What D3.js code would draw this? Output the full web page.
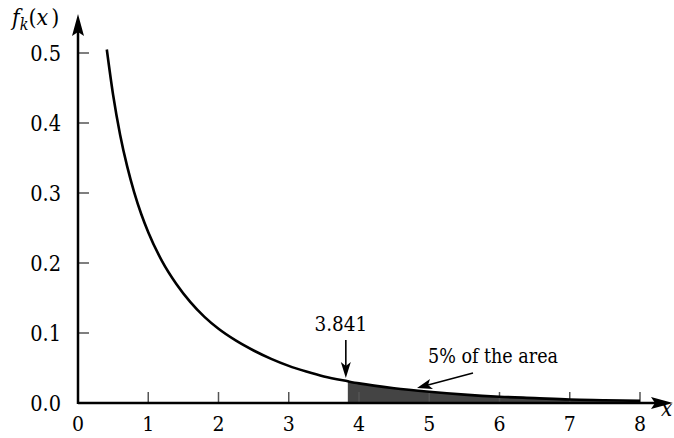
<!DOCTYPE html>
<html>
<head>
<meta charset="utf-8">
<script src="https://cdn.jsdelivr.net/npm/d3@7"></script>
<style>
  body { margin: 0; background: #fff; }
</style>
</head>
<body>
<svg id="chart" width="674" height="438" font-family="'DejaVu Serif Condensed', 'DejaVu Serif', serif" font-stretch="condensed"></svg>
<script>
// points
var curveX = [0.41, 0.5, 0.6, 0.7, 0.8, 0.9, 1.0, 1.2, 1.4, 1.6, 1.8, 2.0, 2.25, 2.5, 2.75, 3.0, 3.25, 3.5, 3.841, 4.0, 4.5, 5.0, 5.5, 6.0, 6.5, 7.0, 7.5, 8.0];
var curveY = [0.505, 0.440, 0.383, 0.338, 0.301, 0.270, 0.244, 0.202, 0.170, 0.144, 0.123, 0.106, 0.089, 0.075, 0.063, 0.053, 0.045, 0.038, 0.031, 0.028, 0.021, 0.016, 0.012, 0.009, 0.007, 0.005, 0.004, 0.003];
var xTicks = [0, 1, 2, 3, 4, 5, 6, 7, 8];
var yTicks = [0.0, 0.1, 0.2, 0.3, 0.4, 0.5];
var critical = 3.841;

var svg = d3.select("#chart");
var x = d3.scaleLinear().domain([0, 8]).range([78, 640]);
var y = d3.scaleLinear().domain([0, 0.5]).range([403, 53]);

var pts = curveX.map(function(d, i) { return { x: d, y: curveY[i] }; });
var tail = pts.filter(function(d) { return d.x >= critical; });

// shaded tail
svg.append("path")
  .datum(tail)
  .attr("fill", "#444")
  .attr("d", d3.area().x(function(d) { return x(d.x); }).y0(y(0)).y1(function(d) { return y(d.y); }).curve(d3.curveMonotoneX));

// ticks
svg.append("g").selectAll("line").data(xTicks.slice(1)).enter().append("line")
  .attr("x1", function(d) { return x(d); }).attr("x2", function(d) { return x(d); })
  .attr("y1", y(0)).attr("y2", y(0) - 11)
  .attr("stroke", "#555").attr("stroke-width", 1.5);
svg.append("g").selectAll("line").data(yTicks.slice(1)).enter().append("line")
  .attr("x1", x(0)).attr("x2", x(0) + 11)
  .attr("y1", function(d) { return y(d); }).attr("y2", function(d) { return y(d); })
  .attr("stroke", "#555").attr("stroke-width", 1.5);

// tick labels
svg.append("g").selectAll("text").data(xTicks).enter().append("text")
  .attr("x", function(d) { return x(d); }).attr("y", 431)
  .attr("text-anchor", "middle").attr("font-size", 21)
  .text(function(d) { return d; });
svg.append("g").selectAll("text").data(yTicks).enter().append("text")
  .attr("x", 61).attr("y", function(d) { return y(d) + 7.5; })
  .attr("text-anchor", "end").attr("font-size", 21.5)
  .text(function(d) { return d.toFixed(1); });

// axes with arrows
svg.append("line").attr("x1", x(0)).attr("x2", 664).attr("y1", y(0)).attr("y2", y(0))
  .attr("stroke", "#000").attr("stroke-width", 2.5);
svg.append("path").attr("d", "M673,403 L651,397 L655,403 L651,409 Z").attr("fill", "#000");
svg.append("line").attr("x1", x(0)).attr("x2", x(0)).attr("y1", y(0) + 1).attr("y2", 24)
  .attr("stroke", "#000").attr("stroke-width", 2.5);
svg.append("path").attr("d", "M78,14 L72,36 L78,32 L84,36 Z").attr("fill", "#000");

// curve
svg.append("path")
  .datum(pts)
  .attr("fill", "none").attr("stroke", "#000").attr("stroke-width", 2.6)
  .attr("d", d3.line().x(function(d) { return x(d.x); }).y(function(d) { return y(d.y); }).curve(d3.curveMonotoneX));

// axis titles
var yl = svg.append("text").attr("x", 12).attr("y", 25).attr("font-size", 23);
yl.append("tspan").attr("font-style", "italic").text("f");
yl.append("tspan").attr("font-style", "italic").attr("font-size", 16).attr("dy", 5).text("k");
yl.append("tspan").attr("dy", -5).text("(");
yl.append("tspan").attr("font-style", "italic").text("x");
yl.append("tspan").attr("dx", 3).text(")");
svg.append("text").attr("x", 661).attr("y", 416).attr("font-size", 22).attr("font-style", "italic").text("x");

// annotations
svg.append("text").attr("x", x(critical) - 7).attr("y", 331).attr("text-anchor", "middle").attr("font-size", 20.5).text("3.841");
svg.append("line").attr("x1", x(critical) - 2).attr("x2", x(critical) - 2).attr("y1", 340).attr("y2", 368)
  .attr("stroke", "#000").attr("stroke-width", 1.6);
svg.append("path").attr("d", "M" + (x(critical) - 2) + ",378 L" + (x(critical) - 7) + ",362 L" + (x(critical) - 2) + ",366 L" + (x(critical) + 3) + ",362 Z").attr("fill", "#000");
svg.append("text").attr("x", 428).attr("y", 363).attr("font-size", 19.5).text("5% of the area");
svg.append("line").attr("x1", 473).attr("y1", 373).attr("x2", 428).attr("y2", 385)
  .attr("stroke", "#000").attr("stroke-width", 1.6);
svg.append("path").attr("d", "M417,388 L430,379 L428,385 L433,389 Z").attr("fill", "#000");
</script>
</body>
</html>
